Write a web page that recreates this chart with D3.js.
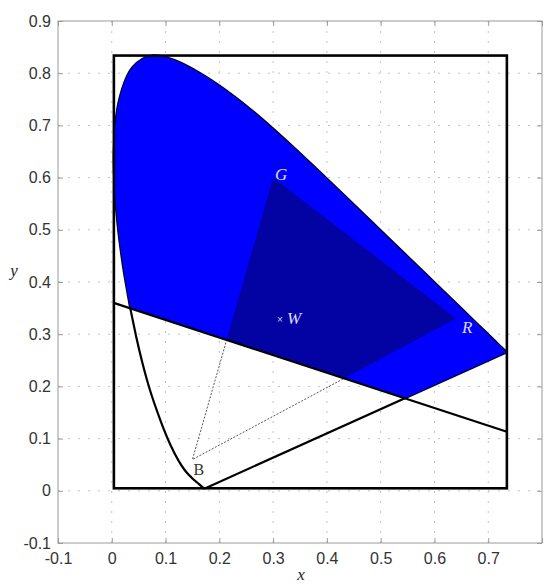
<!DOCTYPE html>
<html>
<head>
<meta charset="utf-8">
<script src="https://cdn.jsdelivr.net/npm/d3@7"></script>
<style>
  html, body { margin: 0; padding: 0; background: #fff; }
  svg { display: block; }
</style>
</head>
<body>
<svg id="chart" width="544" height="586"></svg>
<script>
// ---- data ----
const wavelengths = [380,385,390,395,400,405,410,415,420,425,430,435,440,445,450,455,460,465,470,475,480,485,490,495,500,505,510,515,520,525,530,535,540,545,550,555,560,565,570,575,580,585,590,595,600,605,610,615,620,625,630,635,640,645,650,655,660,665,670,675,680,685,690,695,700];
const locusX = [0.1741,0.1740,0.1738,0.1736,0.1733,0.1730,0.1726,0.1721,0.1714,0.1703,0.1689,0.1669,0.1644,0.1611,0.1566,0.1510,0.1440,0.1355,0.1241,0.1096,0.0913,0.0687,0.0454,0.0235,0.0082,0.0039,0.0139,0.0389,0.0743,0.1142,0.1547,0.1929,0.2296,0.2658,0.3016,0.3373,0.3731,0.4087,0.4441,0.4788,0.5125,0.5448,0.5752,0.6029,0.6270,0.6482,0.6658,0.6801,0.6915,0.7006,0.7079,0.7140,0.7190,0.7230,0.7260,0.7283,0.7300,0.7311,0.7320,0.7327,0.7334,0.7340,0.7344,0.7346,0.7347];
const locusY = [0.0050,0.0050,0.0049,0.0049,0.0048,0.0048,0.0048,0.0048,0.0051,0.0058,0.0069,0.0086,0.0109,0.0138,0.0177,0.0227,0.0297,0.0399,0.0578,0.0868,0.1327,0.2007,0.2950,0.4127,0.5384,0.6548,0.7502,0.8120,0.8338,0.8262,0.8059,0.7816,0.7543,0.7243,0.6923,0.6589,0.6245,0.5896,0.5547,0.5202,0.4866,0.4544,0.4242,0.3965,0.3725,0.3514,0.3340,0.3197,0.3083,0.2993,0.2920,0.2859,0.2809,0.2770,0.2740,0.2717,0.2700,0.2689,0.2680,0.2673,0.2666,0.2660,0.2656,0.2654,0.2653];

const cutLineX = [0.0036, 0.7347];
const cutLineY = [0.360, 0.113];

const primaryNames = ["R", "G", "B"];
const primaryX = [0.64, 0.30, 0.15];
const primaryY = [0.33, 0.60, 0.06];
const whiteName = "W";
const whiteX = 0.3127, whiteY = 0.3290;

const xTicks = [-0.1, 0, 0.1, 0.2, 0.3, 0.4, 0.5, 0.6, 0.7, 0.8];
const xTickLabels = ["-0.1", "0", "0.1", "0.2", "0.3", "0.4", "0.5", "0.6", "0.7", ""];
const yTicks = [-0.1, 0, 0.1, 0.2, 0.3, 0.4, 0.5, 0.6, 0.7, 0.8, 0.9];
const yTickLabels = ["-0.1", "0", "0.1", "0.2", "0.3", "0.4", "0.5", "0.6", "0.7", "0.8", "0.9"];

// ---- layout ----
const svg = d3.select("#chart");
const L = 58, R = 542, T = 21, B = 543;
const x = d3.scaleLinear().domain([-0.1, 0.8]).range([L, R]);
const y = d3.scaleLinear().domain([-0.1, 0.9]).range([B, T]);

const locus = wavelengths.map((w, i) => [locusX[i], locusY[i]]);
const lineGen = d3.line().x(d => x(d[0])).y(d => y(d[1]));
const curveGen = d3.line().x(d => x(d[0])).y(d => y(d[1])).curve(d3.curveCatmullRom.alpha(0.5));

// grid
const grid = svg.append("g").attr("stroke", "#c4c4c4").attr("stroke-width", 1).attr("stroke-dasharray", "2,8");
xTicks.slice(1, -1).forEach(t => grid.append("line").attr("x1", x(t)).attr("x2", x(t)).attr("y1", T).attr("y2", B));
yTicks.slice(1, -1).forEach(t => grid.append("line").attr("x1", L).attr("x2", R).attr("y1", y(t)).attr("y2", y(t)));

// axis box
svg.append("rect").attr("x", L).attr("y", T).attr("width", R - L).attr("height", B - T)
  .attr("fill", "none").attr("stroke", "#9a9a9a").attr("stroke-width", 1);

// axes (ticks inward)
const xAxisB = d3.axisBottom(x).tickValues(xTicks).tickFormat((d, i) => xTickLabels[i]).tickSizeInner(-5).tickSizeOuter(0).tickPadding(10);
const xAxisT = d3.axisTop(x).tickValues(xTicks).tickFormat("").tickSizeInner(-5).tickSizeOuter(0);
const yAxisL = d3.axisLeft(y).tickValues(yTicks).tickFormat((d, i) => yTickLabels[i]).tickSizeInner(-5).tickSizeOuter(0).tickPadding(7);
const yAxisR = d3.axisRight(y).tickValues(yTicks).tickFormat("").tickSizeInner(-5).tickSizeOuter(0);
function styleAxis(g) {
  g.select(".domain").remove();
  g.selectAll(".tick line").attr("stroke", "#9a9a9a");
  g.selectAll(".tick text").attr("fill", "#333").style("font-family", "'Liberation Sans', Arial, sans-serif").style("font-size", "16px");
}
svg.append("g").attr("transform", `translate(0,${B})`).call(xAxisB).call(styleAxis);
svg.append("g").attr("transform", `translate(0,${T})`).call(xAxisT).call(styleAxis);
svg.append("g").attr("transform", `translate(${L},0)`).call(yAxisL).call(styleAxis);
svg.append("g").attr("transform", `translate(${R},0)`).call(yAxisR).call(styleAxis);

// gamut triangle edges (dotted)
const tri = primaryNames.map((n, i) => [primaryX[i], primaryY[i]]);
svg.append("path").attr("d", lineGen(tri) + "Z").attr("fill", "none")
  .attr("stroke", "#444").attr("stroke-width", 0.9).attr("stroke-dasharray", "2,1.5");

// spectral locus and line of purples
svg.append("path").attr("d", curveGen(locus)).attr("fill", "none").attr("stroke", "#000").attr("stroke-width", 2.2);
svg.append("path").attr("d", lineGen([locus[locus.length - 1], locus[0]])).attr("fill", "none").attr("stroke", "#000").attr("stroke-width", 2.2);

// clip: region above the cut line
const slope = (cutLineY[1] - cutLineY[0]) / (cutLineX[1] - cutLineX[0]);
const yAt = xv => cutLineY[0] + slope * (xv - cutLineX[0]);
const xd = x.domain(), yd = y.domain();
const abovePoly = [[xd[0], yAt(xd[0])], [xd[1], yAt(xd[1])], [xd[1], yd[1] + 1], [xd[0], yd[1] + 1]];
const defs = svg.append("defs");
defs.append("clipPath").attr("id", "above").append("path").attr("d", lineGen(abovePoly) + "Z");

const filled = svg.append("g").attr("clip-path", "url(#above)");
filled.append("path").attr("d", curveGen(locus) + "Z").attr("fill", "#0000ff");
filled.append("path").attr("d", lineGen(tri) + "Z").attr("fill", "#0303a4");

// cut line
svg.append("path").attr("d", lineGen(cutLineX.map((v, i) => [v, cutLineY[i]]))).attr("fill", "none")
  .attr("stroke", "#000").attr("stroke-width", 2.2);

// bounding rectangle of locus
const ex = d3.extent(locusX), ey = d3.extent(locusY);
svg.append("rect").attr("x", x(ex[0])).attr("y", y(ey[1])).attr("width", x(ex[1]) - x(ex[0])).attr("height", y(ey[0]) - y(ey[1]))
  .attr("fill", "none").attr("stroke", "#000").attr("stroke-width", 2.6);

// labels
const serif = "'Liberation Serif', 'Times New Roman', serif";
const labelOff = { R: [6, 14], G: [2, 2], B: [1, 16] };
primaryNames.forEach((n, i) => {
  const t = svg.append("text").attr("x", x(primaryX[i]) + labelOff[n][0]).attr("y", y(primaryY[i]) + labelOff[n][1])
    .style("font-family", serif).style("font-size", "17px").text(n);
  if (n === "B") t.attr("fill", "#333").style("font-size", "16px");
  else t.attr("fill", "#dcdcff").style("font-style", "italic");
});
svg.append("text").attr("x", x(whiteX)).attr("y", y(whiteY)).attr("text-anchor", "middle").attr("dy", "0.35em")
  .attr("fill", "#c8c8ff").style("font-family", "'Liberation Sans', Arial, sans-serif").style("font-size", "10px").text("×");
svg.append("text").attr("x", x(whiteX) + 7).attr("y", y(whiteY) + 5)
  .attr("fill", "#dcdcff").style("font-family", serif).style("font-style", "italic").style("font-size", "17px").text(whiteName);

// axis titles
svg.append("text").attr("x", 14).attr("y", 276).attr("text-anchor", "middle")
  .attr("fill", "#222").style("font-family", serif).style("font-style", "italic").style("font-size", "17px").text("y");
svg.append("text").attr("x", 301).attr("y", 580).attr("text-anchor", "middle")
  .attr("fill", "#222").style("font-family", serif).style("font-style", "italic").style("font-size", "17px").text("x");
</script>
</body>
</html>
